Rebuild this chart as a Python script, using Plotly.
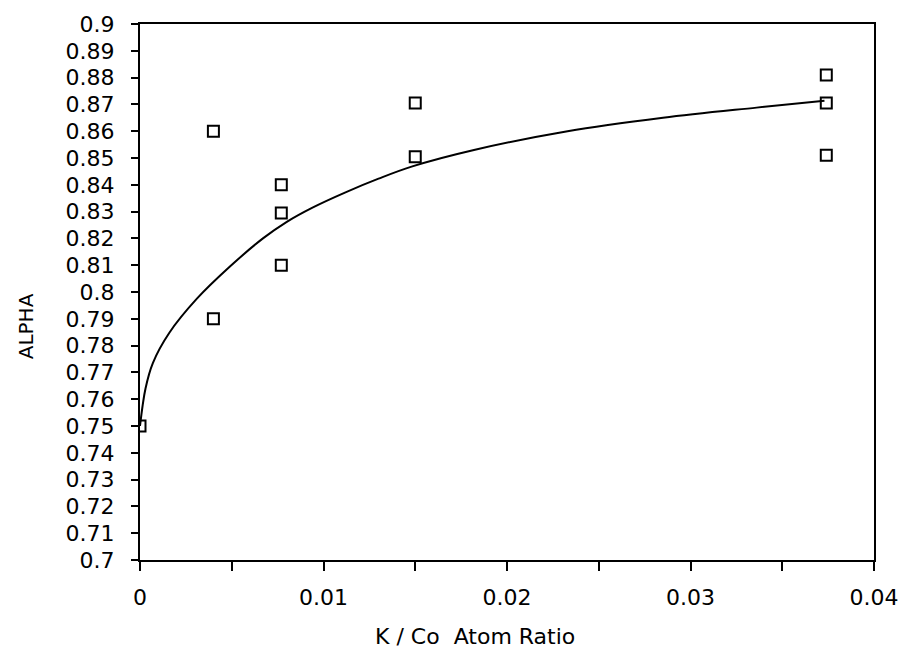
import plotly.graph_objects as go

# Measured data points
pts_x = [0.0, 0.0040, 0.0040, 0.0077, 0.0077, 0.0077, 0.0150, 0.0150, 0.0374, 0.0374, 0.0374]
pts_y = [0.750, 0.860, 0.790, 0.840, 0.8295, 0.810, 0.8705, 0.8505, 0.881, 0.8705, 0.851]

# Fitted curve
curve_x = [0.0, 0.0003, 0.0007, 0.0016, 0.0031, 0.0049, 0.0067, 0.0080, 0.0094,
           0.0112, 0.0130, 0.0148, 0.0182, 0.0233, 0.0285, 0.0336, 0.0373]
curve_y = [0.750, 0.7640, 0.7735, 0.7848, 0.7975, 0.8095, 0.820, 0.8262, 0.8315,
           0.8372, 0.8423, 0.8468, 0.8530, 0.8600, 0.8650, 0.8688, 0.8714]

y_ticks = [round(0.70 + 0.01 * i, 2) for i in range(21)]
y_tick_text = ["0.7", "0.71", "0.72", "0.73", "0.74", "0.75", "0.76", "0.77", "0.78", "0.79",
               "0.8", "0.81", "0.82", "0.83", "0.84", "0.85", "0.86", "0.87", "0.88", "0.89", "0.9"]
x_ticks = [0.0, 0.01, 0.02, 0.03, 0.04]
x_tick_text = ["0", "0.01", "0.02", "0.03", "0.04"]

fig = go.Figure()
fig.add_trace(go.Scatter(x=curve_x, y=curve_y, mode="lines",
                         line=dict(color="black", width=2, shape="spline", smoothing=1.0),
                         showlegend=False, hoverinfo="skip"))
fig.add_trace(go.Scatter(x=pts_x, y=pts_y, mode="markers",
                         marker=dict(symbol="square-open", size=11, color="black",
                                     line=dict(width=2, color="black")),
                         showlegend=False))

font_main = "DejaVu Sans"
fig.update_layout(
    width=910, height=653,
    margin=dict(l=140, r=32, t=15, b=93),
    plot_bgcolor="white", paper_bgcolor="white",
    font=dict(family=font_main, color="black", size=22),
    xaxis=dict(range=[0, 0.04], tickvals=x_ticks, ticktext=x_tick_text,
               ticks="outside", ticklen=9, tickwidth=1.5, tickcolor="black",
               minor=dict(dtick=0.005, tick0=0, ticks="outside", ticklen=9, tickwidth=1.5, tickcolor="black"),
               showline=True, linecolor="black", linewidth=2, mirror=True,
               showgrid=False, zeroline=False, ticklabelstandoff=8,
               tickfont=dict(size=22, family=font_main)),
    yaxis=dict(range=[0.7, 0.9], tickvals=y_ticks, ticktext=y_tick_text,
               ticks="outside", ticklen=7, tickwidth=1.5, tickcolor="black",
               showline=True, linecolor="black", linewidth=2, mirror=True,
               showgrid=False, zeroline=False, ticklabelstandoff=12,
               tickfont=dict(size=22, family=font_main)),
    annotations=[
        dict(text="K / Co  Atom Ratio", xref="paper", yref="paper", x=0.457, y=-0.143,
             showarrow=False, xanchor="center", yanchor="middle",
             font=dict(size=22, family=font_main, color="black")),
        dict(text="ALPHA", xref="paper", yref="paper", x=-0.156, y=0.437, textangle=-90,
             showarrow=False, xanchor="center", yanchor="middle",
             font=dict(size=20, family=font_main, color="black")),
    ],
)

fig.write_html("out.html")
